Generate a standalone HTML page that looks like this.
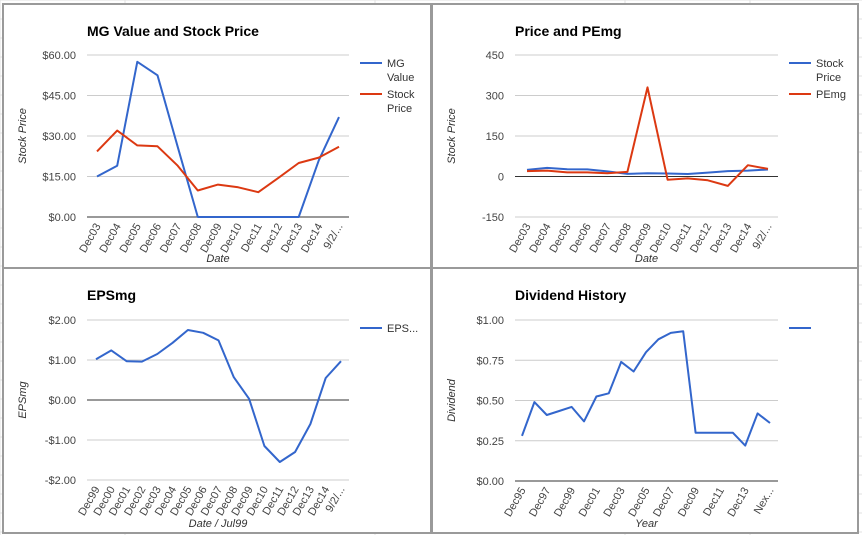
<!DOCTYPE html>
<html><head><meta charset="utf-8"><style>
html,body{margin:0;padding:0;background:#fff;}
svg{display:block;font-family:"Liberation Sans",Arial,sans-serif;}
</style></head><body>
<svg id="s" width="862" height="535" viewBox="0 0 862 535"></svg>
<script>
const c1Cats=["Dec03","Dec04","Dec05","Dec06","Dec07","Dec08","Dec09","Dec10","Dec11","Dec12","Dec13","Dec14","9/2/..."];
const c1MG=[15,19,57.5,52.5,26,0,0,0,0,0,0,21,37];
const c1Stock=[24.3,32,26.5,26.2,19,9.8,12,11,9.2,14.5,20,22,26];
const c1Ticks=[0,15,30,45,60];
const c1TickLabels=["$0.00","$15.00","$30.00","$45.00","$60.00"];
const c2PE=[20,22,15,15,12,17,330,-12,-7,-14,-35,42,28];
const c2Ticks=[-150,0,150,300,450];
const c2TickLabels=["-150","0","150","300","450"];
const c3Cats=["Dec99","Dec00","Dec01","Dec02","Dec03","Dec04","Dec05","Dec06","Dec07","Dec08","Dec09","Dec10","Dec11","Dec12","Dec13","Dec14","9/2/..."];
const c3EPS=[1.02,1.24,0.97,0.96,1.15,1.43,1.75,1.68,1.49,0.57,0.03,-1.15,-1.55,-1.3,-0.6,0.55,0.97];
const c3Ticks=[-2,-1,0,1,2];
const c3TickLabels=["-$2.00","-$1.00","$0.00","$1.00","$2.00"];
const c4Cats=["Dec95","","Dec97","","Dec99","","Dec01","","Dec03","","Dec05","","Dec07","","Dec09","","Dec11","","Dec13","","Nex..."];
const c4Div=[0.28,0.49,0.41,0.435,0.46,0.37,0.525,0.545,0.74,0.68,0.80,0.88,0.92,0.93,0.30,0.30,0.30,0.30,0.22,0.42,0.36];
const c4Ticks=[0,0.25,0.5,0.75,1];
const c4TickLabels=["$0.00","$0.25","$0.50","$0.75","$1.00"];

const NS="http://www.w3.org/2000/svg";
const svg=document.getElementById('s');
function mk(tag,attrs,parent,txt){const e=document.createElementNS(NS,tag);for(const k in attrs)e.setAttribute(k,attrs[k]);if(txt!==undefined)e.textContent=txt;(parent||svg).appendChild(e);return e;}

// spreadsheet background grid
const bg=mk('g',{});


[0,125,375,625,750].forEach(x=>mk('line',{x1:x,y1:0,x2:x,y2:535,stroke:'#e2e2e2'},bg));
for(let y=0;y<535;y+=19)mk('line',{x1:0,y1:y,x2:862,y2:y,stroke:'#e2e2e2'},bg);

function chart(o){
  const g=mk('g',{});
  
  
  const pr=mk('rect',{x:o.px,y:o.py,width:o.pw,height:o.ph,fill:'#fff',stroke:'#9a9a9a','stroke-width':2},g);
  
  
  const t=mk('text',{x:o.x0,y:o.titleY,'font-size':14,'font-weight':'bold',fill:'#000'},g,o.title);
  
  
  const ymin=o.ticks[0],ymax=o.ticks[o.ticks.length-1];
  const Y=v=>o.yBot-(v-ymin)/(ymax-ymin)*(o.yBot-o.yTop);
  const n=o.cats.length;
  const X=i=>o.xf+i*(o.xl-o.xf)/(n-1);
  o.ticks.forEach((v,i)=>{
    const gl=mk('line',{x1:o.x0,x2:o.x1,y1:Y(v),y2:Y(v),stroke:v===0?'#333':'#ccc','stroke-width':1},g);
    
    
    const tl=mk('text',{x:o.x0-11,y:Y(v)+4,'text-anchor':'end','font-size':11,fill:'#444'},g,o.tickLabels[i]);
    
    
  });
  if(ymin===0){const b=mk('line',{x1:o.x0,x2:o.x1,y1:Y(0),y2:Y(0),stroke:'#333'},g);}
  o.cats.forEach((c,i)=>{
    if(!c)return;
    const x=X(i)+4,y=o.yBot+9;
    const tl=mk('text',{x:x,y:y,'text-anchor':'end','font-size':11,fill:'#444',transform:`rotate(-60 ${x} ${y})`},g,c);
    
    
  });
  const yt=mk('text',{x:o.px+23,y:(o.yTop+o.yBot)/2,'text-anchor':'middle','font-size':11,'font-style':'italic',fill:'#333',transform:`rotate(-90 ${o.px+23} ${(o.yTop+o.yBot)/2})`},g,o.yTitle);
  
  
  const xt=mk('text',{x:(o.x0+o.x1)/2,y:o.py+o.ph-6,'text-anchor':'middle','font-size':11,'font-style':'italic',fill:'#333'},g,o.xTitle);
  
  
  o.series.forEach((s,si)=>{
    const pts=s.vals.map((v,i)=>X(i).toFixed(1)+','+Y(v).toFixed(1)).join(' ');
    const pl=mk('polyline',{points:pts,fill:'none',stroke:s.color,'stroke-width':2,'stroke-linejoin':'round'},g);
    
    
    const ly=o.yTop+8+si*31;
    const lg=mk('g',{},g);
    
    
    mk('line',{x1:o.x1+11,x2:o.x1+33,y1:ly,y2:ly,stroke:s.color,'stroke-width':2},lg);
    s.label.forEach((l,li)=>mk('text',{x:o.x1+38,y:ly+4+li*14,'font-size':11,fill:'#333'},lg,l));
  });
}
const blue='#3366cc',red='#dc3912';
chart({name:'mg-value-chart',px:3,py:4,pw:428,ph:264,title:'MG Value and Stock Price',titleY:36,x0:87,x1:349,yTop:55,yBot:217,xf:97,xl:339,cats:c1Cats,ticks:c1Ticks,tickLabels:c1TickLabels,yTitle:'Stock Price',xTitle:'Date',
  series:[{vals:c1MG,color:blue,label:['MG','Value']},{vals:c1Stock,color:red,label:['Stock','Price']}]});
chart({name:'price-pemg-chart',px:432,py:4,pw:426,ph:264,title:'Price and PEmg',titleY:36,x0:515,x1:778,yTop:55,yBot:217,xf:527,xl:768,cats:c1Cats,ticks:c2Ticks,tickLabels:c2TickLabels,yTitle:'Stock Price',xTitle:'Date',
  series:[{vals:c1Stock,color:blue,label:['Stock','Price']},{vals:c2PE,color:red,label:['PEmg']}]});
chart({name:'epsmg-chart',px:3,py:268,pw:428,ph:265,title:'EPSmg',titleY:300,x0:87,x1:349,yTop:320,yBot:480,xf:96,xl:341,cats:c3Cats,ticks:c3Ticks,tickLabels:c3TickLabels,yTitle:'EPSmg',xTitle:'Date / Jul99',
  series:[{vals:c3EPS,color:blue,label:['EPS...']}]});
chart({name:'dividend-chart',px:432,py:268,pw:426,ph:265,title:'Dividend History',titleY:300,x0:515,x1:778,yTop:320,yBot:481,xf:522,xl:770,cats:c4Cats,ticks:c4Ticks,tickLabels:c4TickLabels,yTitle:'Dividend',xTitle:'Year',
  series:[{vals:c4Div,color:blue,label:[]}]});
</script>
</body></html>
